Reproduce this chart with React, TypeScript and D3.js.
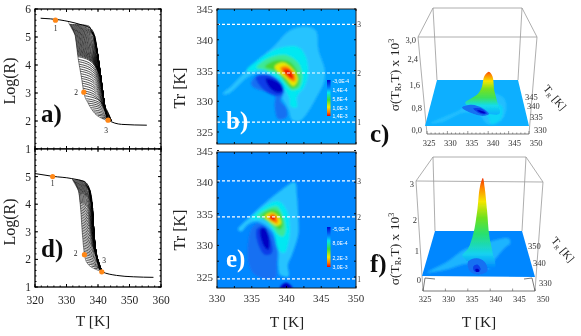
import React from "react";
import * as d3 from "d3";

type P = [number, number];
type P3 = [number, number, number];

// ---------- relaxation curves: [T, logR]
const aRightBranch: P[] = [[321.8,5.67],[327.9,5.61],[334.3,5.45],[337.4,5.33],[339.0,5.01],[340.1,4.24],[341.1,3.40],[342.2,2.45],[343.2,2.04],[347.5,1.88],[355.5,1.85]];
const aLeftBranch: P[] = [[330.5,5.52],[332.7,5.07],[333.7,4.24],[334.8,3.52],[335.5,3.02],[336.9,2.63],[339.0,2.27],[341.7,2.07],[343.2,2.0]];
const aReversals = [5.45,5.42,5.39,5.36,5.33,5.3,5.27,5.24,5.21,5.18,5.15,5.12,5.09,5.06,5.03,5.0,4.97,4.94,4.91,4.88,4.85,4.82,4.79,4.76,4.73,4.7,4.67,4.64,4.61,4.58,4.55,4.52,4.49,4.46,4.43,4.4,4.37,4.34,4.3,4.2,4.12,4.03,3.95,3.86,3.78,3.69,3.6,3.52,3.43,3.35,3.26,3.17,3.08,3.0,2.9,2.8,2.72,2.64,2.56,2.48,2.4,2.33,2.26,2.2,2.14,2.1];
const aMarkers: P[] = [[326.5,5.6],[335.5,3.03],[343.2,2.03]];

const dRightBranch: P[] = [[320,5.11],[325.6,5.01],[331.6,4.93],[335.9,4.80],[337.5,4.48],[338.3,3.82],[338.8,2.75],[339.6,2.04],[341.2,1.56],[345.9,1.42],[351.2,1.37],[357.6,1.35]];
const dLeftBranch: P[] = [[331.6,4.93],[333.8,4.48],[334.5,3.82],[335.0,2.99],[335.7,2.18],[336.6,1.86],[339.1,1.65],[341.2,1.56]];
const dReversals = [4.88,4.85,4.82,4.79,4.76,4.73,4.7,4.67,4.64,4.61,4.58,4.55,4.52,4.49,4.46,4.43,4.4,4.36,4.32,4.28,4.24,4.2,4.16,4.12,4.08,4.03,3.97,3.91,3.85,3.79,3.73,3.67,3.61,3.55,3.49,3.43,3.37,3.31,3.25,3.19,3.13,3.07,3.01,2.95,2.89,2.83,2.77,2.71,2.65,2.59,2.53,2.47,2.41,2.35,2.29,2.23,2.17,2.1,2.03,1.96,1.89,1.82,1.75,1.68];
const dMarkers: P[] = [[325.6,5.0],[335.7,2.17],[341.2,1.55]];

// ---------- contour bands, panel b: [T, Tr]
const bBand1: P[] = [[330.8,331.2],[332.1,332.5],[333.8,334.5],[335.5,336.4],[337.9,338.6],[340.5,341.5],[342.7,342.1],[344.2,341.5],[344.6,338.3],[345.5,335.1],[345.4,333.2],[344.1,330.2],[342.8,327.8],[341.9,326.8],[340.8,327.0],[340.3,328.6],[339.5,330.2],[337.9,333.5],[335.9,334.6],[334.5,334.0],[333.1,332.6],[331.6,331.2]];
const bBand2: P[] = [[334.3,335.1],[335.9,336.7],[338.8,338.6],[341.7,338.8],[342.8,337.2],[343.1,334.5],[342.6,332.4],[341.5,330.7],[341.5,329.0],[340.6,329.2],[340.4,330.5],[339.5,332.4],[338.1,334.3],[336.4,335.1],[335.2,334.9]];
const bBand3: P[] = [[335.7,335.5],[337.6,337.1],[340.0,337.5],[341.7,336.2],[342.3,334.0],[341.8,332.1],[340.8,331.8],[340.0,332.6],[338.8,334.3],[336.9,335.1]];
const bBand4: P[] = [[336.9,335.6],[338.6,336.7],[340.5,336.4],[341.7,334.5],[341.7,332.6],[340.8,332.1],[339.8,333.2],[338.6,334.8]];
const bBand5: P[] = [[338.3,335.6],[339.5,336.3],[341.0,335.1],[341.6,333.5],[341.0,332.5],[339.9,333.7]];
const bBand6: P[] = [[339.1,335.4],[340.0,335.7],[341.2,334.3],[341.2,333.2],[340.5,333.5]];
const bBand7: P[] = [[339.5,335.1],[340.3,335.2],[341.0,334.0],[340.8,333.6],[340.2,334.1]];
const bNeg1: P[] = [[334.9,332.9],[335.9,334.3],[337.6,334.3],[339.1,332.6],[339.5,331.0],[339.1,330.2],[340.0,328.8],[340.0,327.4],[338.8,327.1],[338.3,329.1],[338.3,331.0],[336.9,331.6],[335.5,332.1]];
const bNeg2: P[] = [[335.6,333.9],[337.6,334.2],[339.3,332.9],[339.6,331.4],[338.6,330.9],[336.8,331.8]];
const bNeg3: P[] = [[337,333.7],[338.8,333.1],[339.5,331.8],[338.8,331.4],[337.6,332.2]];
const bDashed = [342.5,334.6,326.6];

// ---------- contour bands, panel e: [T, Tr]
const eBand1: P[] = [[333.0,332.5],[334.5,334.3],[336.9,336.7],[339.3,338.8],[341.2,340.0],[341.5,338.0],[341.7,334.3],[341.7,331.7],[340.8,328.5],[340.2,326.9],[340.3,325.1],[339.1,325.3],[338.8,326.9],[338.8,329.0],[337.9,332.2],[335.9,333.7],[334.5,333.3],[333.5,332.2]];
const eBand2: P[] = [[334.9,334.3],[336.9,336.2],[338.8,337.0],[340.0,335.6],[340.5,332.7],[340.2,330.1],[339.7,328.8],[338.8,329.4],[338.1,332.2],[336.7,334.1],[335.5,334.1]];
const eBand3: P[] = [[335.7,334.6],[336.9,335.6],[338.6,336.2],[339.5,334.6],[339.9,332.5],[339.5,331.4],[338.8,331.7],[338.1,332.7],[336.9,334.1]];
const eBand4: P[] = [[336.4,334.6],[337.6,335.6],[338.8,335.4],[339.5,333.5],[339.1,332.5],[338.1,333.3]];
const eBand5: P[] = [[336.9,334.6],[337.9,335.2],[338.8,334.6],[339.2,333.5],[338.6,333.1],[337.6,333.8]];
const eBand6: P[] = [[337.3,334.5],[338.1,335.0],[338.7,334.3],[338.7,333.5],[338.1,333.7]];
const eBand7: P[] = [[337.5,334.5],[338.1,334.7],[338.4,334.3],[338.2,333.9],[337.7,334.2]];
const eNeg1: P[] = [[334.5,330.6],[335.0,332.7],[335.9,333.5],[337.6,332.2],[338.6,329.6],[338.6,327.4],[338.3,324.8],[335.5,325.3],[334.5,327.4]];
const eNeg2: P[] = [[335.7,332.5],[336.7,333.0],[337.6,331.4],[337.9,328.8],[336.9,328.5],[335.9,330.3]];
const eNeg3: P[] = [[336.2,332.5],[336.9,332.7],[337.5,331.1],[337.4,329.3],[336.8,329.8]];
const eNeg4: P[] = [[339.1,323.4],[339.9,324.1],[340.8,323.4],[340.6,322.5],[339.3,322.5]];
const eDashed = [340.2,334.5,324.7];

// ---------- 3D surfaces: floor bands [T, Tr], peak outline [T, Tr, z]
const cRidge: P[] = [[326,331.5],[333,339],[337,345],[342,348],[345,345],[345,338],[343,332],[340,331],[338,336],[334,337],[329,332]];
const cHalo: P[] = [[335,340],[339,343],[344,341],[343.5,334],[341,331],[340,336],[337,338]];
const cPeak: P3[] = [[334.5,336,0.42],[336.2,336,0.6],[337.7,336,0.75],[338.6,336,0.98],[339.2,336,1.38],[340.25,336,1.53],[341.1,336,1.38],[341.7,336,0.85],[342.5,336,0.46],[343.2,336,0.05],[340,336,0.05]];
const cNeg1: P[] = [[333.5,340],[336,341.5],[339,339.5],[340.5,336.5],[339,335.5],[336,337]];
const cNeg2: P[] = [[336.5,339.5],[338.5,339.5],[340,336.8],[338.5,336.5]];
const cNeg3: P[] = [[337.5,338.5],[339,338],[339.7,337],[338.7,337]];

const fRidge: P[] = [[326,332],[330,338],[334,345],[340,349],[345.7,351],[346,348.5],[344.4,346],[341,338],[340,334.5],[335,337],[330,333.5]];
const fPeak: P3[] = [[333.8,334.5,0.4],[335.1,334.5,0.64],[336.3,334.5,1.15],[337.1,334.5,1.9],[337.6,334.5,2.67],[338.2,334.5,2.97],[338.6,334.5,2.67],[339.2,334.5,1.9],[339.8,334.5,1.08],[340.7,334.5,0.49],[341.3,334.5,0.04],[338,334.5,0.04]];
const fNeg1: P[] = [[335,338],[337,340],[339,338],[339.5,333],[337.5,331],[335.5,333]];
const fNeg2: P[] = [[336.3,335.5],[337.3,336.5],[338,334],[337.5,332.5],[336.5,333]];
const fNeg3: P[] = [[336.8,334],[337.5,334],[337.7,332.8],[337,332.5]];

// ---------- tick labels
const logTicks = [1,2,3,4,5,6];
const rampTicks = [320,330,340,350,360];
const mapXTicks = [330,335,340,345,350];
const mapYTicks = [325,330,335,340,345];
const surfaceT = [325,330,335,340,345,350];
const bLegend = ["-3,0E-4","1,4E-4","5,8E-4","1,0E-3","1,4E-3"];
const eLegend = ["-5,0E-4","8,0E-4","2,2E-3","3,0E-3"];
const cZ = ["0,0","0,8","1,6","2,4","3,0"];
const fZ = ["0","1","2","3"];

const SERIF = "'Liberation Serif', serif";
const SANS = "'Liberation Sans', sans-serif";
const jet = ["rgb(40,195,255)","rgb(0,232,242)","rgb(60,232,150)","rgb(70,215,50)","rgb(235,232,0)","rgb(255,125,0)","rgb(240,10,5)"];
const neg = ["rgb(20,112,242)","rgb(10,60,232)","rgb(0,5,195)"];

function Ticks({x,y,xs,ys,len,w=1}:{x:any;y:any;xs:number[];ys:number[];len:number;w?:number}){
  const [x0,x1]=x.range(); const [y0,y1]=y.range();
  return <g stroke="#000" strokeWidth={w}>
    {xs.map((t,i)=><g key={i}><line x1={x(t)} x2={x(t)} y1={y0} y2={y0-len}/><line x1={x(t)} x2={x(t)} y1={y1} y2={y1+len}/></g>)}
    {ys.map((t,i)=><g key={i}><line y1={y(t)} y2={y(t)} x1={x0} x2={x0+len}/><line y1={y(t)} y2={y(t)} x1={x1} x2={x1-len}/></g>)}
  </g>;
}

function Ramp({left,right,reversals,markers,y0,y1,drop,xLabels,numLabels}:{left:P[];right:P[];reversals:number[];markers:P[];y0:number;y1:number;drop:number;xLabels:boolean;numLabels:P[]}){
  const x=d3.scaleLinear().domain([320,360]).range([35,161]);
  const y=d3.scaleLinear().domain([1,6]).range([y0,y1]);
  const line=d3.line<P>().x(d=>x(d[0])).y(d=>y(d[1])).curve(d3.curveMonotoneX);
  const basis=d3.line<P>().x(d=>x(d[0])).y(d=>y(d[1])).curve(d3.curveBasis);
  const steep=right.filter(p=>p[0]>=right[3][0]);
  const tLeft=d3.scaleLinear().domain(left.map(p=>p[1])).range(left.map(p=>p[0])).clamp(true);
  const tRight=d3.scaleLinear().domain(steep.map(p=>p[1])).range(steep.map(p=>p[0])).clamp(true);
  const top=reversals[0];
  const floorLevel=left[left.length-1][1];
  const dropAt=d3.scaleLinear().domain([top,top-0.9]).range([0.06,drop]).clamp(true);
  const family=reversals.map(L=>{
    const L2=Math.max(L-dropAt(L),floorLevel);
    const ts=tLeft(L), te=tRight(L2);
    const rest=steep.filter(p=>p[1]<L2 && p[1]>=floorLevel);
    const pts:P[]=[[ts,L],[ts,L],[ts+(te-ts)*0.5,L-(L-L2)*0.1],[te-(te-ts)*0.2,L-(L-L2)*0.45],[te,L2],...rest.slice(0,2)];
    return basis(pts)!;
  });
  return <g>
    <rect x={35} y={y1} width={126} height={y0-y1} fill="#fff" stroke="#000" strokeWidth={1.3}/>
    <Ticks x={x} y={y} xs={d3.range(320,360.1,2)} ys={d3.range(1,6.01,0.2)} len={1.5}/>
    <Ticks x={x} y={y} xs={rampTicks} ys={logTicks} len={3}/>
    {family.map((d,i)=><path key={i} d={d} fill="none" stroke="#000" strokeWidth={0.7}/>)}
    <path d={line(right)!} fill="none" stroke="#000" strokeWidth={1}/>
    <path d={line(left)!} fill="none" stroke="#000" strokeWidth={0.5}/>
    {markers.map((m,i)=><circle key={i} cx={x(m[0])} cy={y(m[1])} r={2.6} fill="rgb(255,135,25)"/>)}
    {numLabels.map((n,i)=><text key={i} x={n[0]} y={n[1]} fontSize={7.5} fontFamily={SERIF} textAnchor="middle" dominantBaseline="middle" fill="#222">{i+1}</text>)}
    {logTicks.filter(t=>y(t)>=y1-0.5 && !(xLabels && t===6)).map(t=><text key={t} x={31} y={y(t)+4} fontSize={11.5} fontFamily={SERIF} textAnchor="end" fill="#222">{t}</text>)}
    {xLabels && rampTicks.map(t=><text key={t} x={x(t)} y={304} fontSize={11.5} fontFamily={SERIF} textAnchor="middle" fill="#222">{t}</text>)}
  </g>;
}

function ContourMap({id,top,bottom,y345,y325,bg,bands,negs,dashed,legendY,legendLabels,labels}:{id:string;top:number;bottom:number;y345:number;y325:number;bg:string;bands:P[][];negs:P[][];dashed:number[];legendY:[number,number];legendLabels:[string,number][];labels:[number,number]}){
  const x=d3.scaleLinear().domain([330,350]).range([217,356]);
  const yRaw=d3.scaleLinear().domain([325,345]).range([y325,y345]);
  const y=d3.scaleLinear().domain([yRaw.invert(bottom),yRaw.invert(top)]).range([bottom,top]);
  const shape=d3.line<P>().x(d=>x(d[0])).y(d=>y(d[1])).curve(d3.curveCatmullRomClosed.alpha(0.5));
  return <g>
    <clipPath id={id+"clip"}><rect x={217} y={top} width={139} height={bottom-top}/></clipPath>
    <linearGradient id={id+"leg"} x1="0" x2="0" y1="0" y2="1">
      <stop offset="0" stopColor="rgb(0,0,210)"/><stop offset="0.22" stopColor="rgb(0,130,255)"/><stop offset="0.35" stopColor="rgb(0,230,240)"/>
      <stop offset="0.55" stopColor="rgb(60,220,60)"/><stop offset="0.75" stopColor="rgb(240,235,0)"/><stop offset="0.9" stopColor="rgb(255,120,0)"/><stop offset="1" stopColor="rgb(240,0,0)"/>
    </linearGradient>
    <g clipPath={`url(#${id}clip)`}>
      <rect x={217} y={top} width={139} height={bottom-top} fill={bg}/>
      <g filter="url(#soft)">
        {bands.map((b,i)=><path key={i} d={shape(b)!} fill={jet[i]}/>)}
        {negs.map((b,i)=><path key={i} d={shape(b)!} fill={neg[Math.min(i,2)]}/>)}
      </g>
      {dashed.map((v,i)=><line key={i} x1={217} x2={356} y1={y(v)} y2={y(v)} stroke="#fff" strokeWidth={1.1} strokeDasharray="3 2"/>)}
      <rect x={327} y={legendY[0]} width={3.5} height={legendY[1]-legendY[0]} fill={`url(#${id}leg)`}/>
      {legendLabels.map(([s,ly],i)=><text key={i} x={332.5} y={ly+2} fontSize={5.1} fontFamily={SANS} fill="#fff">{s}</text>)}
    </g>
    <rect x={217} y={top} width={139} height={bottom-top} fill="none" stroke="#222" strokeWidth={1}/>
    <Ticks x={x} y={y} xs={d3.range(330,350.1,2.5)} ys={d3.range(325,345.1,2.5)} len={2} w={0.9}/>
    {mapYTicks.map(t=><text key={t} x={213} y={yRaw(t)+4} fontSize={11} fontFamily={SERIF} textAnchor="end" fill="#333">{t}</text>)}
    {dashed.map((v,i)=><text key={i} x={359} y={y(v)+3} fontSize={7.5} fontFamily={SERIF} textAnchor="middle" fill="#333">{i===0?"3":i===1?"2":"1"}</text>)}
    {labels[0]>0 && mapXTicks.map(t=><text key={t} x={x(t)} y={labels[0]} fontSize={11} fontFamily={SERIF} textAnchor="middle" fill="#333">{t}</text>)}
  </g>;
}

type Corners={FL0:P;FR0:P;BL0:P;BR0:P;FL1:P;FR1:P;BL1:P;BR1:P};
function makeProject(c:Corners){
  const u=d3.scaleLinear().domain([325,350]).range([0,1]);
  const v=d3.scaleLinear().domain([330,355]).range([0,1]);
  const w=d3.scaleLinear().domain([0,3]).range([0,1]);
  const mix=(a:P,b:P,t:number):P=>[a[0]+(b[0]-a[0])*t,a[1]+(b[1]-a[1])*t];
  return (T:number,Tr:number,z:number):P=>{
    const U=u(T),V=v(Tr),W=w(z);
    const p0=mix(mix(c.FL0,c.FR0,U),mix(c.BL0,c.BR0,U),V);
    const p1=mix(mix(c.FL1,c.FR1,U),mix(c.BL1,c.BR1,U),V);
    return mix(p0,p1,W);
  };
}

function Surface({id,c,floor,ridge,halo,peak,negs,zTop,stops}:{id:string;c:Corners;floor:string;ridge:P[];halo?:P[];peak:P3[];negs:P[][];zTop:number;stops:[number,string][]}){
  const pr=makeProject(c);
  const flat=d3.line<P>().x(d=>pr(d[0],d[1],0)[0]).y(d=>pr(d[0],d[1],0)[1]).curve(d3.curveCatmullRomClosed.alpha(0.5));
  const pk=d3.line<P3>().x(d=>pr(d[0],d[1],d[2])[0]).y(d=>pr(d[0],d[1],d[2])[1]).curve(d3.curveCatmullRomClosed.alpha(0.5));
  const Tr=peak[0][1];
  const yOf=(z:number)=>pr(338,Tr,z)[1];
  const corners:P[]=[[325,330],[350,330],[350,355],[325,355]];
  const quad=corners.map(q=>pr(q[0],q[1],0).join(",")).join(" ");
  return <g>
    <linearGradient id={id+"pk"} gradientUnits="userSpaceOnUse" x1="0" x2="0" y1={yOf(0)} y2={yOf(zTop)}>
      {stops.map(([o,col],i)=><stop key={i} offset={o} stopColor={col}/>)}
    </linearGradient>
    <polygon points={quad} fill={floor}/>
    <g filter="url(#soft)">
      <path d={flat(ridge)!} fill={jet[0]} opacity={0.75}/>
      {halo && <path d={flat(halo)!} fill={jet[1]} opacity={0.55}/>}
    </g>
    <g filter="url(#soft2)">
      <path d={pk(peak)!} fill={`url(#${id}pk)`}/>
      {negs.map((b,i)=><path key={i} d={flat(b)!} fill={neg[Math.min(i,2)]}/>)}
    </g>
  </g>;
}

function Box({c,base}:{c:Corners;base:[P,P]}){
  const seg=(a:P,b:P,k:string)=><line key={k} x1={a[0]} y1={a[1]} x2={b[0]} y2={b[1]}/>;
  return <g stroke="#999" strokeWidth={0.8}>
    {seg(c.BL1,c.BR1,"a")}{seg(c.FL1,c.FR1,"b")}{seg(c.BL1,c.FL1,"c")}{seg(c.BR1,c.FR1,"d")}
    {seg(c.BL1,c.BL0,"e")}{seg(c.BR1,c.BR0,"f")}
    {seg(c.FL1,base[0],"g")}{seg(c.FR1,base[1],"h")}
  </g>;
}

const cCorners:Corners={FL0:[425,126],FR0:[529,126],BL0:[437,80],BR0:[518,80],FL1:[418,37],FR1:[537,37],BL1:[433,8],BR1:[522,8]};
const fCorners:Corners={FL0:[422,276],FR0:[535,277],BL0:[435,231],BR0:[522,231],FL1:[416,181],FR1:[543,182],BL1:[433,157],BR1:[526,157]};

function Sigma({x,y}:{x:number;y:number}){
  return <text transform={`translate(${x},${y}) rotate(-90)`} fontSize={13.5} fontFamily={SERIF} textAnchor="middle" fill="#222">
    σ(T<tspan fontSize={8} dy={2}>R</tspan><tspan dy={-2}>,T) x 10</tspan><tspan fontSize={8} dy={-5}>3</tspan>
  </text>;
}
function TrLabel({x,y}:{x:number;y:number}){
  return <text transform={`translate(${x},${y}) rotate(50)`} fontSize={11} fontFamily={SERIF} textAnchor="middle" fill="#222">
    T<tspan fontSize={6.5} dy={2}>R</tspan><tspan dy={-2}> [K]</tspan>
  </text>;
}

export default function App(){
  const axisC=d3.scaleLinear().domain([325,350]).range([427,529]);
  const labC=d3.scaleLinear().domain([325,350]).range([429,536]);
  const axisF=d3.scaleLinear().domain([325,350]).range([423,535]);
  const labF=d3.scaleLinear().domain([325,350]).range([425,543]);
  const T=(s:string,x:number,y:number,fs:number,fill="#222",anchor="middle",w:any=400,rot?:number)=>
    <text key={s+x+y} x={rot===undefined?x:0} y={rot===undefined?y:0} transform={rot===undefined?undefined:`translate(${x},${y}) rotate(${rot})`} fontSize={fs} fontFamily={SERIF} textAnchor={anchor} fontWeight={w} fill={fill}>{s}</text>;
  const stopsC:[number,string][]=[[0,"rgb(10,175,255)"],[0.22,"rgb(20,220,235)"],[0.4,"rgb(60,225,90)"],[0.6,"rgb(120,225,30)"],[0.78,"rgb(245,230,0)"],[0.93,"rgb(255,130,0)"],[1,"rgb(245,70,0)"]];
  const stopsF:[number,string][]=[[0,"rgb(0,135,255)"],[0.16,"rgb(20,210,240)"],[0.38,"rgb(40,225,110)"],[0.56,"rgb(110,225,30)"],[0.74,"rgb(245,230,0)"],[0.9,"rgb(255,130,0)"],[1,"rgb(240,50,0)"]];
  return <svg width={581} height={336} style={{position:"absolute",left:0,top:0,background:"#fff"}}>
    <defs>
      <filter id="soft" x="-20%" y="-20%" width="140%" height="140%"><feGaussianBlur stdDeviation="0.8"/></filter>
      <filter id="soft2" x="-20%" y="-20%" width="140%" height="140%"><feGaussianBlur stdDeviation="0.7"/></filter>
      <filter id="all" x="0" y="0" width="100%" height="100%"><feGaussianBlur stdDeviation="0.35"/></filter>
    </defs>
    <g filter="url(#all)">
      <rect width={581} height={336} fill="#fff"/>
      <Ramp left={aLeftBranch} right={aRightBranch} reversals={aReversals} markers={aMarkers} y0={149} y1={9} drop={0.9} xLabels={false} numLabels={[[55.7,29],[76,93],[106,131]]}/>
      <Ramp left={dLeftBranch} right={dRightBranch} reversals={dReversals} markers={dMarkers} y0={287} y1={149} drop={0.8} xLabels={true} numLabels={[[52.7,184],[75.7,254],[104,261]]}/>
      {T("a)",41,122,25,"#111","start",700)}
      {T("d)",41,257,25,"#111","start",700)}
      {T("Log(R)",15,81,16,"#222","middle",400,-90)}
      {T("Log(R)",15,222,16,"#222","middle",400,-90)}
      {T("T [K]",93,326,15.5)}

      <ContourMap id="b" top={9} bottom={144} y345={9} y325={132} bg="rgb(5,160,255)"
        bands={[bBand1,bBand2,bBand3,bBand4,bBand5,bBand6,bBand7]} negs={[bNeg1,bNeg2,bNeg3]} dashed={bDashed}
        legendY={[80,116]} legendLabels={[[bLegend[0],81],[bLegend[1],90],[bLegend[2],99],[bLegend[3],108],[bLegend[4],115.5]]} labels={[0,0]}/>
      <ContourMap id="e" top={152} bottom={288} y345={150.5} y325={277} bg="rgb(0,135,255)"
        bands={[eBand1,eBand2,eBand3,eBand4,eBand5,eBand6,eBand7]} negs={[eNeg1,eNeg2,eNeg3,eNeg4]} dashed={eDashed}
        legendY={[227,267]} legendLabels={[[eLegend[0],229],[eLegend[1],243],[eLegend[2],258],[eLegend[3],267]]} labels={[302,0]}/>
      {T("b)",226,129,25,"#fff","start",700)}
      {T("e)",226,267,25,"#fff","start",700)}
      {T("Tr [K]",185,88,16,"#222","middle",400,-90)}
      {T("Tr [K]",185,230,16,"#222","middle",400,-90)}
      {T("T [K]",287,327,15.5)}

      {/* c */}
      <Box c={cCorners} base={[[427,134],[529,134]]}/>
      <Surface id="c" c={cCorners} floor="rgb(10,175,255)" ridge={cRidge} halo={cHalo} peak={cPeak} negs={[cNeg1,cNeg2,cNeg3]} zTop={1.53} stops={stopsC}/>
      <line x1={427} x2={529} y1={134} y2={134} stroke="#555" strokeWidth={0.8}/>
      {d3.range(325,350.1,1).map(t=><line key={t} x1={axisC(t)} x2={axisC(t)} y1={134} y2={t%5===0?131:132.5} stroke="#555" strokeWidth={0.6}/>)}
      {surfaceT.map(t=><text key={t} x={labC(t)} y={146} fontSize={8.5} fontFamily={SERIF} textAnchor="middle" fill="#333">{t}</text>)}
      {cZ.map((s,i)=>T(s,[422,422,420,418,416][i],[133,111,88,62,43][i],8.5,"#333","end"))}
      {[["345",525,100],["340",527,109],["335",530,120],["330",534,133]].map(([s,x,y])=>T(s as string,x as number,y as number,8.5,"#333","start"))}
      <Sigma x={399} y={75}/>
      <TrLabel x={552} y={100}/>
      {T("c)",370,142,25,"#111","start",700)}

      {/* f */}
      <Box c={fCorners} base={[[423,291],[535,291]]}/>
      <Surface id="f" c={fCorners} floor="rgb(0,135,255)" ridge={fRidge} peak={fPeak} negs={[fNeg1,fNeg2,fNeg3]} zTop={2.97} stops={stopsF}/>
      <g stroke="#555" strokeWidth={0.8}>
        <line x1={423} x2={535} y1={291} y2={291}/>
        <line x1={423} x2={425} y1={291} y2={278}/>
        <line x1={535} x2={532} y1={291} y2={278}/>
        <line x1={425} x2={435} y1={278} y2={279}/>
        <line x1={532} x2={524} y1={278} y2={279}/>
      </g>
      {d3.range(325,350.1,5).map(t=><line key={t} x1={axisF(t)} x2={axisF(t)} y1={291} y2={288.5} stroke="#555" strokeWidth={0.6}/>)}
      {surfaceT.map(t=><text key={t} x={labF(t)} y={302} fontSize={8.5} fontFamily={SERIF} textAnchor="middle" fill="#333">{t}</text>)}
      {fZ.map((s,i)=>T(s,[421,419,417,414][i],[283,254,223,187][i],8.5,"#333","end"))}
      {[["350",528,249],["340",533,266],["330",539,286]].map(([s,x,y])=>T(s as string,x as number,y as number,8.5,"#333","start"))}
      <Sigma x={399} y={249}/>
      <TrLabel x={560} y={252}/>
      {T("f)",370,272,25,"#111","start",700)}
      {T("T [K]",479,327,15.5)}
    </g>
  </svg>;
}
